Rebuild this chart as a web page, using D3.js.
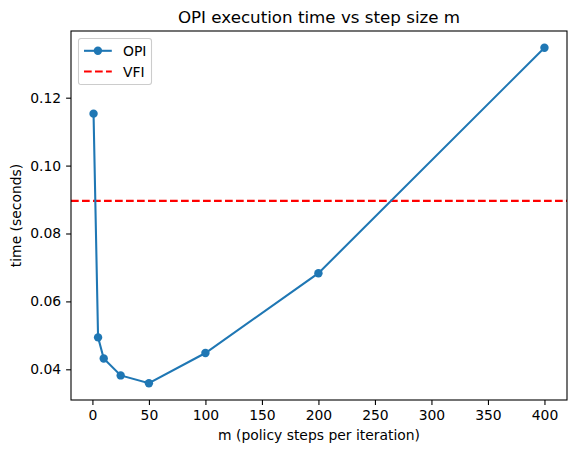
<!DOCTYPE html>
<html>
<head>
<meta charset="utf-8">
<script src="https://cdn.jsdelivr.net/npm/d3@7"></script>
<style>
  body { margin: 0; background: white; }
  text { font-family: "DejaVu Sans", sans-serif; fill: black; }
</style>
</head>
<body>
<div id="container"></div>
<script>
let w = 576;
let h = 454;

// DATA
let steps = [1, 5, 10, 25, 50, 100, 200, 400];
let opiTimes = [0.1153, 0.0494, 0.0432, 0.0382, 0.0359, 0.0448, 0.0683, 0.1347];
let vfiTime = 0.0896;
let xTicks = [0, 50, 100, 150, 200, 250, 300, 350, 400];
let yTicks = [0.04, 0.06, 0.08, 0.10, 0.12];

let padLeft = 71, padRight = 567, padTop = 31, padBottom = 400;
let blue = "#1f77b4";
let fs = "13.9px";

let viz = d3.select("#container").append("svg")
    .attr("width", w)
    .attr("height", h)
    .style("background-color", "white");

// matplotlib style 5% margins
let xPad = (d3.max(steps) - d3.min(steps)) * 0.05;
let yPad = (d3.max(opiTimes) - d3.min(opiTimes)) * 0.05;
let xScale = d3.scaleLinear()
    .domain([d3.min(steps) - xPad, d3.max(steps) + xPad])
    .range([padLeft, padRight]);
let yScale = d3.scaleLinear()
    .domain([d3.min(opiTimes) - yPad, d3.max(opiTimes) + yPad])
    .range([padBottom, padTop]);

// AXES
let xAxis = d3.axisBottom(xScale).tickValues(xTicks).tickSize(4.9).tickPadding(4.9);
let yAxis = d3.axisLeft(yScale).tickValues(yTicks).tickSize(4.9).tickPadding(4.9)
    .tickFormat(d3.format(".2f"));

let xG = viz.append("g").attr("transform", "translate(0," + padBottom + ")").call(xAxis);
let yG = viz.append("g").attr("transform", "translate(" + padLeft + ",0)").call(yAxis);
[xG, yG].forEach(function(g){
  g.select(".domain").remove();
  g.selectAll("line").attr("stroke", "black").attr("stroke-width", 1.1);
  g.selectAll("text").style("font-size", fs).attr("fill", "black");
});

// VFI line
viz.append("line")
    .attr("x1", padLeft).attr("x2", padRight)
    .attr("y1", yScale(vfiTime)).attr("y2", yScale(vfiTime))
    .attr("stroke", "red")
    .attr("stroke-width", 2.08)
    .attr("stroke-dasharray", "7.7,3.3");

// OPI line
let lineMaker = d3.line()
    .x(function(d, i){ return xScale(steps[i]); })
    .y(function(d){ return yScale(d); });

viz.append("path")
    .datum(opiTimes)
    .attr("d", lineMaker)
    .attr("fill", "none")
    .attr("stroke", blue)
    .attr("stroke-width", 2.08);

viz.selectAll(".pt").data(opiTimes).enter()
  .append("circle")
    .attr("class", "pt")
    .attr("cx", function(d, i){ return xScale(steps[i]); })
    .attr("cy", function(d){ return yScale(d); })
    .attr("r", 4.2)
    .attr("fill", blue);

// frame
viz.append("rect")
    .attr("x", padLeft).attr("y", padTop)
    .attr("width", padRight - padLeft).attr("height", padBottom - padTop)
    .attr("fill", "none")
    .attr("stroke", "black")
    .attr("stroke-width", 1.1);

// title & labels
viz.append("text")
    .attr("x", (padLeft + padRight) / 2).attr("y", padTop - 8.5)
    .attr("text-anchor", "middle")
    .style("font-size", "16.7px")
    .text("OPI execution time vs step size m");

viz.append("text")
    .attr("x", (padLeft + padRight) / 2).attr("y", 440)
    .attr("text-anchor", "middle")
    .style("font-size", fs)
    .text("m (policy steps per iteration)");

viz.append("text")
    .attr("transform", "translate(20.5," + ((padTop + padBottom) / 2) + ") rotate(-90)")
    .attr("text-anchor", "middle")
    .style("font-size", fs)
    .text("time (seconds)");

// legend
let lg = viz.append("g").attr("transform", "translate(78.5,38.5)");
lg.append("rect")
    .attr("width", 73).attr("height", 46)
    .attr("rx", 2.5)
    .attr("fill", "white").attr("fill-opacity", 0.8)
    .attr("stroke", "#cccccc").attr("stroke-width", 1.1);
lg.append("line").attr("x1", 5.5).attr("x2", 33.3).attr("y1", 12.3).attr("y2", 12.3)
    .attr("stroke", blue).attr("stroke-width", 2.08);
lg.append("circle").attr("cx", 19.4).attr("cy", 12.3).attr("r", 4.2).attr("fill", blue);
lg.append("text").attr("x", 44.5).attr("y", 17.3).style("font-size", fs).text("OPI");
lg.append("line").attr("x1", 5.5).attr("x2", 33.3).attr("y1", 33).attr("y2", 33)
    .attr("stroke", "red").attr("stroke-width", 2.08).attr("stroke-dasharray", "7.7,3.3");
lg.append("text").attr("x", 44.5).attr("y", 38).style("font-size", fs).text("VFI");
</script>
</body>
</html>
